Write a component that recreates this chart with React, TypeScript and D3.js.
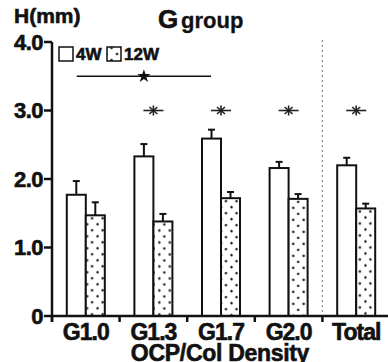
import * as d3 from "d3";

const categories = ["G1.0", "G1.3", "G1.7", "G2.0", "Total"];
const series = ["4W", "12W"];
const mean4W = [1.77, 2.33, 2.59, 2.16, 2.2];
const err4W = [0.2, 0.18, 0.13, 0.09, 0.11];
const mean12W = [1.47, 1.38, 1.72, 1.71, 1.57];
const err12W = [0.19, 0.11, 0.09, 0.07, 0.07];
const yTicks = [0, 1, 2, 3, 4];
const yTickLabels = ["0", "1.0", "2.0", "3.0", "4.0"];
const sigCategories = ["G1.3", "G1.7", "G2.0", "Total"];
const sigLevel = 3.0;
const bracketFrom = "G1.0";
const bracketTo = "G1.7";
const bracketLevel = 3.5;

const W = 388;
const H = 362;
const font = "'Liberation Sans', Arial, sans-serif";
// heavy text look (the original uses a very bold Helvetica)
const heavy = { fontWeight: "bold", stroke: "#111", strokeWidth: 0.6 } as const;

export default function App() {
  // scales
  const x = d3.scaleBand().domain(categories).range([52, 390]).padding(0);
  const y = d3.scaleLinear().domain([0, 4]).range([316, 42]);
  const barW = 19;
  const inner = d3.scaleBand().domain(series).range([-barW, barW]);

  const rows = categories.map((c, i) => ({
    cat: c,
    vals: [
      { s: "4W", m: mean4W[i], e: err4W[i] },
      { s: "12W", m: mean12W[i], e: err12W[i] },
    ],
  }));

  const center = (c: string) => (x(c) ?? 0) + x.bandwidth() / 2;
  const star = d3.symbol().type(d3.symbolStar).size(55)();
  const bx0 = center(bracketFrom) - 9;
  const bx1 = center(bracketTo) - 10;

  // one dot pattern per dotted bar so the dots line up with its left edge
  const dotPattern = (id: string, px: number, py: number) => (
    <pattern key={id} id={id} x={px} y={py} width="10.5" height="12" patternUnits="userSpaceOnUse">
      <rect width="10.5" height="12" fill="#fff" />
      <circle cx="4.5" cy="3" r="1.2" fill="#111" />
      <circle cx="10" cy="9" r="1.2" fill="#111" />
      <circle cx="-0.5" cy="9" r="1.2" fill="#111" />
    </pattern>
  );

  return (
    <svg
      width={W}
      height={H}
      style={{ position: "absolute", left: 0, top: 0, background: "#fff" }}
      fontFamily={font}
      fill="#111"
    >
      <defs>
        {categories.map((c, i) =>
          dotPattern(`dots${i}`, center(c) + (inner("12W") ?? 0), y(mean12W[i]))
        )}
        {dotPattern("dotsLegend", 107, 45)}
      </defs>

      {/* titles */}
      <text x={14} y={23} fontSize={21} {...heavy}>H(mm)</text>
      <text x={158} y={28} fontSize={26} {...heavy}>G</text>
      <text x={181} y={28} fontSize={22} fontWeight="bold" stroke="#111" strokeWidth={0.3}>group</text>

      {/* divider before Total */}
      <line
        x1={x("Total")}
        x2={x("Total")}
        y1={40}
        y2={y(0)}
        stroke="#888"
        strokeWidth={1.2}
        strokeDasharray="2,3"
      />

      {/* bars */}
      {rows.map((r, i) => (
        <g key={r.cat} transform={`translate(${center(r.cat)},0)`}>
          {r.vals.map((v) => {
            const bx = inner(v.s) ?? 0;
            const cx = bx + barW / 2;
            return (
              <g key={v.s}>
                <line x1={cx} x2={cx} y1={y(v.m)} y2={y(v.m + v.e)} stroke="#111" strokeWidth={2} />
                <line x1={cx - 3.5} x2={cx + 3.5} y1={y(v.m + v.e)} y2={y(v.m + v.e)} stroke="#111" strokeWidth={2} />
                <rect
                  x={bx}
                  y={y(v.m)}
                  width={barW}
                  height={y(0) - y(v.m)}
                  fill={v.s === "4W" ? "#fff" : `url(#dots${i})`}
                  stroke="#111"
                  strokeWidth={2}
                />
              </g>
            );
          })}
        </g>
      ))}

      {/* significance marks */}
      {sigCategories.map((c) => {
        const cx = center(c);
        const cy = y(sigLevel);
        return (
          <g key={c} stroke="#222" strokeWidth={1.6}>
            <line x1={cx - 10} x2={cx + 10} y1={cy} y2={cy} />
            <line x1={cx} x2={cx} y1={cy - 5} y2={cy + 5} />
            <line x1={cx - 4} x2={cx + 4} y1={cy - 3.5} y2={cy + 3.5} />
            <line x1={cx - 4} x2={cx + 4} y1={cy + 3.5} y2={cy - 3.5} />
          </g>
        );
      })}
      <line x1={bx0} x2={bx1} y1={y(bracketLevel)} y2={y(bracketLevel)} stroke="#111" strokeWidth={1.3} />
      <path d={star ?? ""} transform={`translate(${(bx0 + bx1) / 2},${y(bracketLevel)})`} fill="#111" />

      {/* legend */}
      <rect x={59} y={47} width={14} height={14} fill="#fff" stroke="#111" strokeWidth={1.5} />
      <text x={76} y={60} fontSize={17} {...heavy}>4W</text>
      <rect x={107} y={47} width={14} height={14} fill="url(#dotsLegend)" stroke="#111" strokeWidth={1.5} />
      <text x={124} y={60} fontSize={17} {...heavy}>12W</text>

      {/* y axis */}
      <line x1={52} x2={52} y1={y(4)} y2={y(0) + 6} stroke="#111" strokeWidth={2.5} />
      {yTicks.map((t, i) => (
        <g key={t} transform={`translate(52,${y(t)})`}>
          <line x1={-8} x2={0} stroke="#111" strokeWidth={2.5} />
          <text x={-9} dy="0.36em" textAnchor="end" fontSize={22} letterSpacing={-0.5} {...heavy}>
            {yTickLabels[i]}
          </text>
        </g>
      ))}

      {/* x axis */}
      <line x1={52} x2={388} y1={y(0)} y2={y(0)} stroke="#111" strokeWidth={2.5} />
      {categories.map((c) => (
        <line key={c} x1={x(c)} x2={x(c)} y1={y(0)} y2={y(0) + 6} stroke="#111" strokeWidth={2.5} />
      ))}
      {categories.map((c) => (
        <text key={c} x={center(c)} y={340} textAnchor="middle" fontSize={23} letterSpacing={-1} {...heavy}>
          {c}
        </text>
      ))}
      <text x={220} y={361} textAnchor="middle" fontSize={23} letterSpacing={-0.3} {...heavy}>
        OCP/Col Density
      </text>
    </svg>
  );
}
